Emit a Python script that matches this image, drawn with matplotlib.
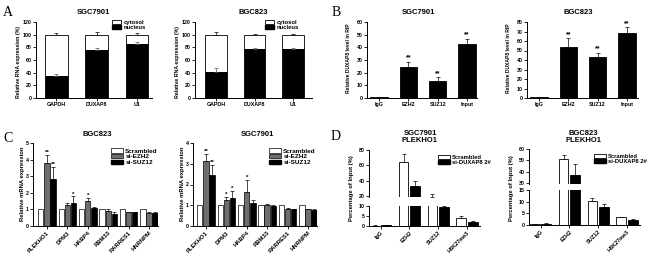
import numpy as np
import matplotlib
matplotlib.use("Agg")
import matplotlib.pyplot as plt
from matplotlib.patches import Patch

plt.rcParams['font.family'] = ['Liberation Sans', 'DejaVu Sans']
plt.rcParams['font.weight'] = 'bold'

# ---------------- data ----------------
a_genes = ['GAPDH', 'DUXAP8', 'U1']
a_sgc_nuc = [35, 76, 86]
a_sgc_nuc_err = [3.5, 3.5, 2.5]
a_sgc_tot_err = [2.5, 3.5, 2.5]
a_bgc_nuc = [41, 77, 77]
a_bgc_nuc_err = [6, 1.2, 1.2]
a_bgc_tot_err = [5, 1.2, 1.2]

b_groups = ['IgG', 'EZH2', 'SUZ12', 'Input']
b_sgc = [0.8, 24.7, 13.7, 42.5]
b_sgc_err = [0.2, 4.0, 2.6, 4.0]
b_bgc = [0.8, 53.5, 43, 68.5]
b_bgc_err = [0.2, 9.3, 4.8, 6.0]
b_stars = ['', '**', '**', '**']

c_genes = ['PLEKHO1', 'DPM3', 'HABP4', 'RBM33', 'RARRES1', 'HNRNPM']
c_series = ['Scrambled', 'si-EZH2', 'si-SUZ12']
c_bgc_scr = [1, 1, 1, 1, 1, 1]
c_bgc_ezh2 = [3.8, 1.27, 1.53, 0.9, 0.82, 0.78]
c_bgc_ezh2_err = [0.5, 0.13, 0.17, 0.1, 0.03, 0.08]
c_bgc_suz12 = [2.83, 1.4, 1.1, 0.72, 0.82, 0.8]
c_bgc_suz12_err = [0.75, 0.38, 0.04, 0.1, 0.03, 0.05]
c_bgc_ezh2_stars = ['**', '', '*', '', '', '']
c_bgc_suz12_stars = ['**', '*', '', '', '', '']
c_sgc_scr = [1, 1, 1, 1, 1, 1]
c_sgc_ezh2 = [3.12, 1.25, 1.65, 1.03, 0.82, 0.8]
c_sgc_ezh2_err = [0.37, 0.17, 0.55, 0.04, 0.04, 0.04]
c_sgc_suz12 = [2.46, 1.33, 1.13, 0.98, 0.8, 0.75]
c_sgc_suz12_err = [0.5, 0.35, 0.1, 0.05, 0.03, 0.08]
c_sgc_ezh2_stars = ['**', '*', '*', '', '', '']
c_sgc_suz12_stars = ['**', '*', '', '', '', '']

d_groups = ['IgG', 'EZH2', 'SUZ12', 'H3K27me3']
d_series = ['Scrambled', 'si-DUXAP8 2#']
d_sgc_scr = [0.2, 64, 19, 4.0]
d_sgc_scr_err = [0.1, 10.5, 3.0, 1.2]
d_sgc_si = [0.4, 33, 9.5, 2.1]
d_sgc_si_err = [0.1, 7.0, 0.3, 0.3]
d_bgc_scr = [0.3, 51, 10.5, 3.3]
d_bgc_scr_err = [0.1, 3.7, 1.2, 0.3]
d_bgc_si = [0.6, 37.5, 7.9, 2.1]
d_bgc_si_err = [0.1, 9.8, 1.2, 0.3]

W, H = 650, 262
fig = plt.figure(figsize=(6.5, 2.62), dpi=100)
fs = 3.8


def axpx(x0, y0, x1, y1):
    return fig.add_axes([x0 / W, 1 - y1 / H, (x1 - x0) / W, (y1 - y0) / H])


def style(ax, bottom=True):
    for s in ['top', 'right']:
        ax.spines[s].set_visible(False)
    ax.spines['left'].set_linewidth(0.7)
    ax.spines['bottom'].set_linewidth(0.7)
    if not bottom:
        ax.spines['bottom'].set_visible(False)
    ax.tick_params(length=2, width=0.6, pad=1, labelsize=fs)


def ftext(x, y, s, **kw):
    fig.text(x / W, 1 - y / H, s, **kw)


def ebar(ax, x, y, e):
    ax.errorbar(x, y, yerr=[np.zeros(len(e)), e], fmt='none', ecolor='black',
                elinewidth=0.5, capsize=1.5, capthick=0.5, zorder=1)


# ---------------- A ----------------
def panel_a(box, xlim, nuc, nuc_err, tot_err, title, tx, lx, ylx):
    ax = axpx(*box)
    style(ax)
    x = np.arange(len(a_genes))
    ebar(ax, x, [100] * 3, tot_err)
    ax.bar(x, [100 - v for v in nuc], 0.56, bottom=nuc, color='white',
           edgecolor='black', linewidth=0.6, zorder=2)
    ax.bar(x, nuc, 0.56, color='black', edgecolor='black', linewidth=0.6, zorder=2)
    ax.errorbar(x, nuc, yerr=[np.zeros(3), nuc_err], fmt='none', ecolor='#555555',
                elinewidth=0.5, capsize=1.5, capthick=0.5, zorder=3)
    ax.set_xlim(*xlim)
    ax.set_ylim(0, 120)
    ax.set_yticks(range(0, 121, 20))
    ax.set_xticks(x)
    ax.set_xticklabels(a_genes)
    ftext(tx, 12, title, fontsize=5.5, ha='center', va='center')
    ftext(ylx, 62, 'Relative RNA expression (%)', fontsize=3.8, rotation=90,
          ha='center', va='center')
    ax.legend([Patch(facecolor='white', edgecolor='black', linewidth=0.6),
               Patch(facecolor='black', edgecolor='black')],
              ['cytosol', 'nucleus'], loc='upper left',
              bbox_to_anchor=(lx / W, 1 - 17 / H), bbox_transform=fig.transFigure,
              frameon=False, fontsize=4.2, handlelength=1.6, handleheight=0.7,
              labelspacing=0.05, borderpad=0, handletextpad=0.4)


panel_a((36, 22, 152, 98), (-0.5, 2.37), a_sgc_nuc, a_sgc_nuc_err, a_sgc_tot_err,
        'SGC7901', 93, 109, 19)
panel_a((195, 22, 312, 98), (-0.55, 2.49), a_bgc_nuc, a_bgc_nuc_err, a_bgc_tot_err,
        'BGC823', 253, 262, 178)


# ---------------- B ----------------
def panel_b(box, xlim, ymax, vals, errs, title, tx, ylx):
    ax = axpx(*box)
    style(ax)
    x = np.arange(len(b_groups))
    ax.bar(x, vals, 0.6, color='black', edgecolor='black', linewidth=0.6, zorder=2)
    ebar(ax, x, vals, errs)
    for i, s in enumerate(b_stars):
        if s:
            ax.text(x[i], vals[i] + errs[i] + ymax * 0.005, s, fontsize=5,
                    ha='center', va='bottom')
    ax.set_xlim(*xlim)
    ax.set_ylim(0, ymax)
    ax.set_yticks(range(0, ymax + 1, 10))
    ax.set_xticks(x)
    ax.set_xticklabels(b_groups)
    ftext(tx, 12, title, fontsize=5.5, ha='center', va='center')
    ftext(ylx, 58, 'Relative DUXAP8 level in RIP', fontsize=3.6, rotation=90,
          ha='center', va='center')


panel_b((367, 22, 477, 98), (-0.41, 3.34), 60, b_sgc, b_sgc_err, 'SGC7901', 418, 349)
panel_b((527, 22, 638, 98), (-0.41, 3.38), 80, b_bgc, b_bgc_err, 'BGC823', 578, 509)


# ---------------- C ----------------
def panel_c(box, xlim, ymax, scr, ez, eze, su, sue, ezs, sus, title, tx, ylx, lx):
    ax = axpx(*box)
    style(ax)
    x = np.arange(len(c_genes))
    w, off = 0.26, 0.3
    ax.bar(x - off, scr, w, color='white', edgecolor='black', linewidth=0.5, zorder=2)
    ax.bar(x, ez, w, color='#6e6e6e', edgecolor='black', linewidth=0.5, zorder=2)
    ax.bar(x + off, su, w, color='black', edgecolor='black', linewidth=0.5, zorder=2)
    ebar(ax, x, ez, eze)
    ebar(ax, x + off, su, sue)
    for i in range(len(c_genes)):
        if ezs[i]:
            ax.text(x[i], ez[i] + eze[i], ezs[i], fontsize=4.5, ha='center', va='bottom')
        if sus[i]:
            ax.text(x[i] + off, su[i] + sue[i], sus[i], fontsize=4.5, ha='center',
                    va='bottom')
    ax.set_xlim(*xlim)
    ax.set_ylim(0, ymax)
    ax.set_yticks(range(0, ymax + 1))
    ax.set_xticks(x)
    ax.set_xticklabels(c_genes, rotation=45, ha='right', rotation_mode='anchor',
                       fontsize=4.2)
    ftext(tx, 134, title, fontsize=5.5, ha='center', va='center')
    ftext(ylx, 184, 'Relative mRNA expression', fontsize=4.2, rotation=90,
          ha='center', va='center')
    ax.legend([Patch(facecolor='white', edgecolor='black', linewidth=0.5),
               Patch(facecolor='#6e6e6e', edgecolor='black', linewidth=0.5),
               Patch(facecolor='black', edgecolor='black')],
              c_series, loc='upper left',
              bbox_to_anchor=(lx / W, 1 - 145 / H), bbox_transform=fig.transFigure,
              frameon=False, fontsize=4.6, handlelength=1.8, handleheight=0.7,
              labelspacing=0.05, borderpad=0, handletextpad=0.4)


panel_c((33, 143, 158, 226), (-0.68, 5.44), 5, c_bgc_scr, c_bgc_ezh2, c_bgc_ezh2_err,
        c_bgc_suz12, c_bgc_suz12_err, c_bgc_ezh2_stars, c_bgc_suz12_stars,
        'BGC823', 97, 23, 108)
panel_c((193, 143, 317, 226), (-0.63, 5.44), 4, c_sgc_scr, c_sgc_ezh2, c_sgc_ezh2_err,
        c_sgc_suz12, c_sgc_suz12_err, c_sgc_ezh2_stars, c_sgc_suz12_stars,
        'SGC7901', 257, 183, 266)


# ---------------- D ----------------
def panel_d(x0, x1, upper, lower, ulim, llim, uticks, lticks, scr, scre, si, sie,
            title, tx, ylx, lx, ly):
    x = np.arange(len(d_groups))
    w, off = 0.34, 0.2
    axu = axpx(x0, upper[0], x1, upper[1])
    axl = axpx(x0, lower[0], x1, lower[1])
    for ax, lim, ticks in [(axu, ulim, uticks), (axl, llim, lticks)]:
        style(ax, bottom=(ax is axl))
        ax.bar(x - off, scr, w, color='white', edgecolor='black', linewidth=0.6, zorder=2)
        ax.bar(x + off, si, w, color='black', edgecolor='black', linewidth=0.6, zorder=2)
        ebar(ax, x - off, scr, scre)
        ebar(ax, x + off, si, sie)
        ax.set_xlim(-0.4, 3.45)
        ax.set_ylim(*lim)
        ax.set_yticks(ticks)
        ax.set_xticks(x)
    axu.tick_params(axis='x', bottom=False, labelbottom=False)
    axl.set_xticklabels(d_groups, rotation=45, ha='right', rotation_mode='anchor',
                        fontsize=4.0)
    ftext(tx, 137, title, fontsize=5.5, ha='center', va='center', linespacing=1.1)
    ftext(ylx, 188, 'Percentage of Input (%)', fontsize=4.2, rotation=90,
          ha='center', va='center')
    axu.legend([Patch(facecolor='white', edgecolor='black', linewidth=0.6),
                Patch(facecolor='black', edgecolor='black')],
               d_series, loc='upper left',
               bbox_to_anchor=(lx / W, 1 - ly / H), bbox_transform=fig.transFigure,
               frameon=False, fontsize=4.2, handlelength=2.0, handleheight=0.7,
               labelspacing=0.05, borderpad=0, handletextpad=0.4)


panel_d(369, 480, (150, 197), (206, 226), (18.7, 80), (0, 10), [20, 40, 60, 80],
        [0, 5, 10], d_sgc_scr, d_sgc_scr_err, d_sgc_si, d_sgc_si_err,
        'SGC7901\nPLEKHO1', 420, 352, 435, 152)
panel_d(529, 640, (149, 184), (190, 225), (29.5, 60), (0, 15), [30, 40, 50, 60],
        [0, 5, 10, 15], d_bgc_scr, d_bgc_scr_err, d_bgc_si, d_bgc_si_err,
        'BGC823\nPLEKHO1', 583, 511, 591, 151)

# panel letters
for s, px, py in [('A', 8, 13), ('B', 336, 13), ('C', 8, 138), ('D', 336, 137)]:
    ftext(px, py, s, fontsize=10, family='Liberation Serif', fontweight='normal',
          ha='center', va='center')

fig.savefig('out.png', dpi=100)
